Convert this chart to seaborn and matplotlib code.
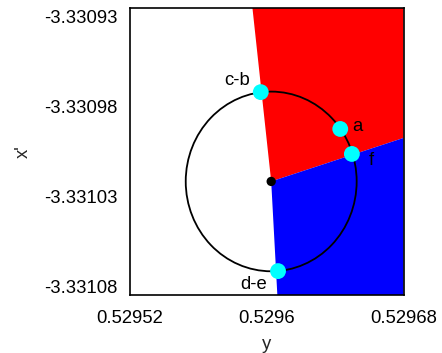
import matplotlib
matplotlib.use("Agg")
import matplotlib.pyplot as plt
from matplotlib.patches import Ellipse
from matplotlib.ticker import FuncFormatter
import seaborn as sns
import pandas as pd

# ---- data ----
center_x = 0.5296026
center_y = -3.3310218
radius = 5.0e-5

point_labels = ["c-b", "a", "f", "d-e"]
point_x = [0.5295965, 0.5296430, 0.5296498, 0.5296066]
point_y = [-3.3309721, -3.3309926, -3.3310065, -3.3310717]

label_x = [0.5295825, 0.5296531, 0.5296613, 0.5295924]
label_y = [-3.3309658, -3.3309914, -3.3310104, -3.3310794]

x_lim = [0.52952, 0.52968]
y_lim = [-3.331085, -3.330925]
x_ticks = [0.52952, 0.5296, 0.52968]
y_ticks = [-3.33093, -3.33098, -3.33103, -3.33108]

red_x = [0.5295916, 0.52968, 0.52968, center_x]
red_y = [-3.330925, -3.330925, -3.3309976, center_y]
blue_x = [center_x, 0.52968, 0.52968, 0.5296062]
blue_y = [center_y, -3.3309976, -3.331085, -3.331085]

# ---- plot ----
sns.set_theme(style="white")
plt.rcParams['font.family'] = ['Liberation Sans', 'DejaVu Sans']

fig = plt.figure(figsize=(4.42, 3.53), dpi=100)
ax = fig.add_axes([130 / 442, 1 - 295 / 353, 273.5 / 442, 287.5 / 353])

ax.fill(red_x, red_y, color="#ff0000", lw=0, zorder=1)
ax.fill(blue_x, blue_y, color="#0000ff", lw=0, zorder=1)

ax.add_patch(Ellipse((center_x, center_y), 2 * radius, 2 * radius,
                     fill=False, ec="black", lw=1.3, zorder=2))

pts = pd.DataFrame({"x": point_x, "y": point_y, "label": point_labels})
sns.scatterplot(data=pts, x="x", y="y", color="#00ffff", s=130,
                edgecolor="none", ax=ax, zorder=3)
sns.scatterplot(x=[center_x], y=[center_y], color="black", s=45,
                edgecolor="none", ax=ax, zorder=3)

for lab, lx, ly in zip(point_labels, label_x, label_y):
    ax.text(lx, ly, lab, ha="center", va="center", fontsize=13.3,
            color="black", zorder=4)

ax.set_xlim(x_lim)
ax.set_ylim(y_lim)
ax.set_xticks(x_ticks)
ax.set_yticks(y_ticks)
fmt = FuncFormatter(lambda v, p: "%g" % round(v, 6))
ax.xaxis.set_major_formatter(fmt)
ax.yaxis.set_major_formatter(fmt)
ax.tick_params(direction="in", length=7, width=1, labelsize=13.3,
               colors="black", pad=9, top=False, right=False)
ax.tick_params(axis="x", pad=11)
for s in ax.spines.values():
    s.set_color("black")
    s.set_linewidth(1.2)
    s.set_zorder(5)

ax.set_xlabel("y", fontsize=13.3, labelpad=6)
ax.set_ylabel("x'", fontsize=13.3, labelpad=9)

fig.savefig("out.png", dpi=100)
